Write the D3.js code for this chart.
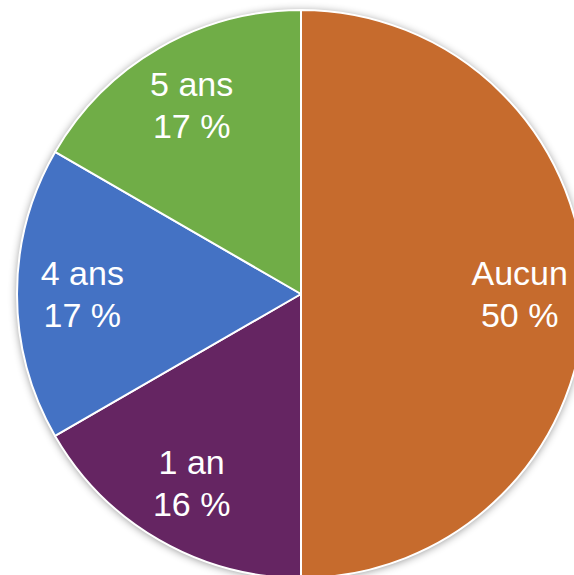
<!DOCTYPE html>
<html><head><meta charset="utf-8">
<script src="https://cdn.jsdelivr.net/npm/d3@7"></script>
<style>html,body{margin:0;padding:0;background:#fff;}svg{display:block;}</style>
</head><body>
<svg id="chart" width="574" height="575"></svg>
<script>
const categories = ["Aucun", "1 an", "4 ans", "5 ans"];
const values = [50, 16.67, 16.67, 16.66];
const pctLabels = ["50 %", "16 %", "17 %", "17 %"];
const colors = ["#C66B2D", "#652562", "#4472C4", "#70AD47"];

const svg = d3.select("#chart");
const cx = 301, cy = 294, R = 284;

const defs = svg.append("defs");
const f = defs.append("filter").attr("id", "sh").attr("x", "-20%").attr("y", "-20%").attr("width", "140%").attr("height", "140%");
f.append("feDropShadow").attr("dx", 0).attr("dy", 1).attr("stdDeviation", 4).attr("flood-color", "#000").attr("flood-opacity", 0.45);

const data = categories.map((c, i) => ({cat: c, value: values[i], pct: pctLabels[i], color: colors[i]}));
const pie = d3.pie().value(d => d.value).sort(null);
const arcs = pie(data);
const arc = d3.arc().innerRadius(0).outerRadius(R);
const labelArc = d3.arc().innerRadius(R * 0.77).outerRadius(R * 0.77);

const g = svg.append("g").attr("transform", `translate(${cx},${cy})`);
g.append("circle").attr("r", R).attr("fill", "#fff").attr("filter", "url(#sh)");
g.selectAll("path.slice").data(arcs).join("path")
  .attr("class", "slice")
  .attr("d", arc)
  .attr("fill", d => d.data.color)
  .attr("stroke", "#fff")
  .attr("stroke-width", 2)
  .attr("stroke-linejoin", "round");

const lbl = g.selectAll("text.lbl").data(arcs).join("text")
  .attr("class", "lbl")
  .attr("transform", d => `translate(${labelArc.centroid(d)})`)
  .attr("text-anchor", "middle")
  .attr("fill", "#fff")
  .attr("font-family", "'Liberation Sans', Arial, sans-serif")
  .attr("font-size", 34);
lbl.append("tspan").attr("x", 0).attr("y", -9).text(d => d.data.cat);
lbl.append("tspan").attr("x", 0).attr("y", 33).text(d => d.data.pct);
</script>
</body></html>
